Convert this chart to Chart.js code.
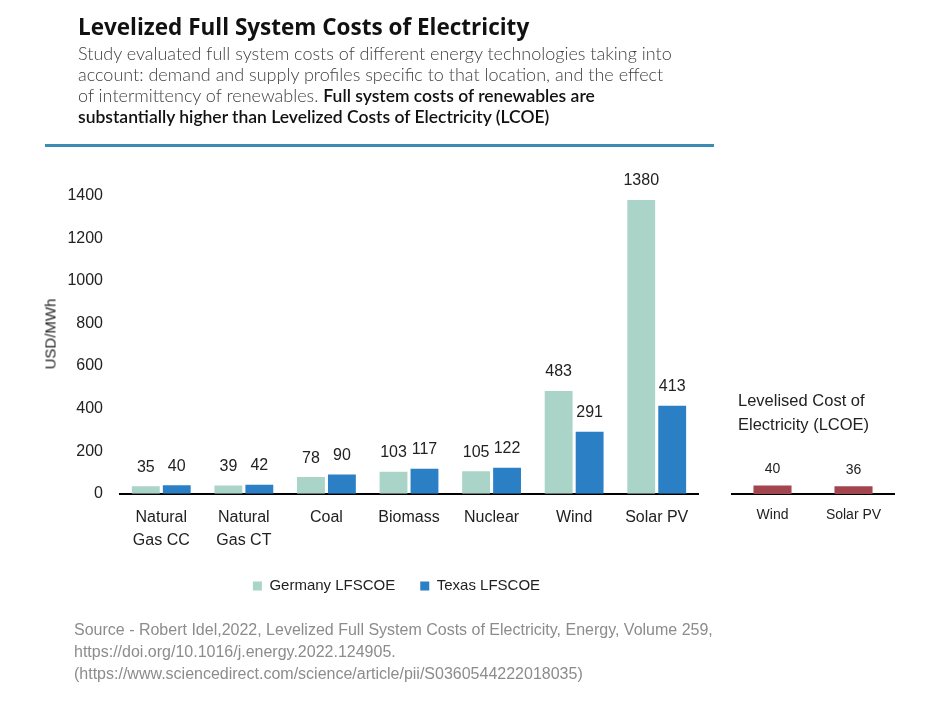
<!DOCTYPE html>
<html><head><meta charset="utf-8">
<script src="https://cdn.jsdelivr.net/npm/chart.js@4.4.1/dist/chart.umd.min.js"></script>
<style>
html,body{margin:0;padding:0;background:#fff;}
#wrap{position:relative;width:925px;height:703px;overflow:hidden;font-family:'Liberation Sans',Arial,sans-serif;}
canvas{position:absolute;left:0;top:0;}
.t{position:absolute;white-space:nowrap;}
#title{left:78px;top:12px;font-family:'Open Sans';font-weight:700;font-size:22.5px;line-height:30px;color:#111;}
#sub{left:78px;top:43px;font-family:Lato;font-weight:300;font-size:18px;line-height:21px;color:#404040;}
#sub b{font-weight:600;font-size:17.5px;color:#111;}
#rule{position:absolute;left:45px;top:144px;width:669px;height:3px;background:#3B8BB5;}
#ytitle{left:50px;top:334px;transform:translate(-50%,-50%) rotate(-90deg);font-size:15px;color:#222;}
#rtitle{left:738px;top:389px;font-size:16.5px;line-height:23.5px;color:#222;}
#source{left:74px;top:619px;font-size:16px;line-height:22px;color:#8c8c8c;}
</style></head>
<body><div id="wrap">
<canvas id="main" width="925" height="703"></canvas>
<canvas id="lcoe" width="925" height="703"></canvas>
<div class="t" id="title">Levelized Full System Costs of Electricity</div>
<div class="t" id="sub">Study evaluated full system costs of different energy technologies taking into<br>account: demand and supply profiles specific to that location, and the effect<br>of intermittency of renewables. <b>Full system costs of renewables are<br>substantially higher than Levelized Costs of Electricity (LCOE)</b></div>
<div id="rule"></div>
<div class="t" id="ytitle">USD/MWh</div>
<div class="t" id="rtitle">Levelised Cost of<br>Electricity (LCOE)</div>
<div class="t" id="source">Source - Robert Idel,2022, Levelized Full System Costs of Electricity, Energy, Volume 259,<br>https://doi.org/10.1016/j.energy.2022.124905.<br>(https://www.sciencedirect.com/science/article/pii/S0360544222018035)</div>
</div>
<script>
const categoryLabels = [['Natural','Gas CC'], ['Natural','Gas CT'], 'Coal', 'Biomass', 'Nuclear', 'Wind', 'Solar PV'];
const germanyLFSCOE = [35, 39, 78, 103, 105, 483, 1380];
const texasLFSCOE = [40, 42, 90, 117, 122, 291, 413];
const lcoeLabels = ['Wind', 'Solar PV'];
const lcoeValues = [40, 36];
const yTickStep = 200;
const yMax = 1400;

Chart.defaults.font.family = "'Liberation Sans', Arial, sans-serif";
Chart.defaults.color = '#222';

function valueLabels(offset, size) {
  return {
    id: 'valueLabels',
    afterDatasetsDraw(chart) {
      const ctx = chart.ctx;
      ctx.save();
      ctx.font = size + "px 'Liberation Sans', Arial, sans-serif";
      ctx.fillStyle = '#222';
      ctx.textAlign = 'center';
      ctx.textBaseline = 'middle';
      chart.data.datasets.forEach((ds, i) => {
        chart.getDatasetMeta(i).data.forEach((el, j) => {
          ctx.fillText(String(ds.data[j]), el.x, el.y - offset);
        });
      });
      ctx.restore();
    }
  };
}

new Chart(document.getElementById('main'), {
  type: 'bar',
  data: {
    labels: categoryLabels,
    datasets: [
      {label: 'Germany LFSCOE', data: germanyLFSCOE, backgroundColor: '#AAD4C8', categoryPercentage: 0.75, barPercentage: 0.9},
      {label: 'Texas LFSCOE', data: texasLFSCOE, backgroundColor: '#2B80C5', categoryPercentage: 0.75, barPercentage: 0.9}
    ]
  },
  options: {
    responsive: false, animation: false,
    layout: {padding: {left: 64, right: 196, top: 195.8, bottom: 99.5}},
    scales: {
      x: {
        grid: {display: false, drawTicks: false},
        border: {display: true, color: '#000', width: 2},
        ticks: {padding: 12.8, color: '#222', font: {size: 16, lineHeight: 1.4}},
        afterFit(s) { s.height = 59.8; }
      },
      y: {
        min: 0, max: yMax,
        grid: {display: false, drawTicks: false},
        border: {display: false},
        ticks: {stepSize: yTickStep, padding: 17, color: '#222', font: {size: 16}, callback: (v) => String(v)},
        afterFit(s) { s.width = 56; }
      },
      yRight: {
        type: 'linear', position: 'right', display: true,
        grid: {display: false, drawTicks: false},
        border: {display: false},
        ticks: {display: false},
        afterFit(s) { s.width = 31; }
      }
    },
    plugins: {
      legend: {position: 'bottom', labels: {boxWidth: 9, boxHeight: 9, padding: 25, color: '#222', font: {size: 15}}},
      tooltip: {enabled: false}
    }
  },
  plugins: [valueLabels(19, 16)]
});

new Chart(document.getElementById('lcoe'), {
  type: 'bar',
  data: {
    labels: lcoeLabels,
    datasets: [{label: 'LCOE', data: lcoeValues, backgroundColor: '#A3454E', categoryPercentage: 0.94, barPercentage: 0.5}]
  },
  options: {
    responsive: false, animation: false,
    layout: {padding: {left: 732, right: 31, top: 451.6, bottom: 179}},
    scales: {
      x: {
        grid: {display: false, drawTicks: false},
        border: {display: true, color: '#000', width: 2},
        ticks: {padding: 12.4, color: '#222', font: {size: 14}},
        afterFit(s) { s.height = 30; }
      },
      y: {display: false, min: 0, max: 200}
    },
    plugins: {legend: {display: false}, tooltip: {enabled: false}}
  },
  plugins: [valueLabels(16, 14)]
});
</script>
</body></html>
